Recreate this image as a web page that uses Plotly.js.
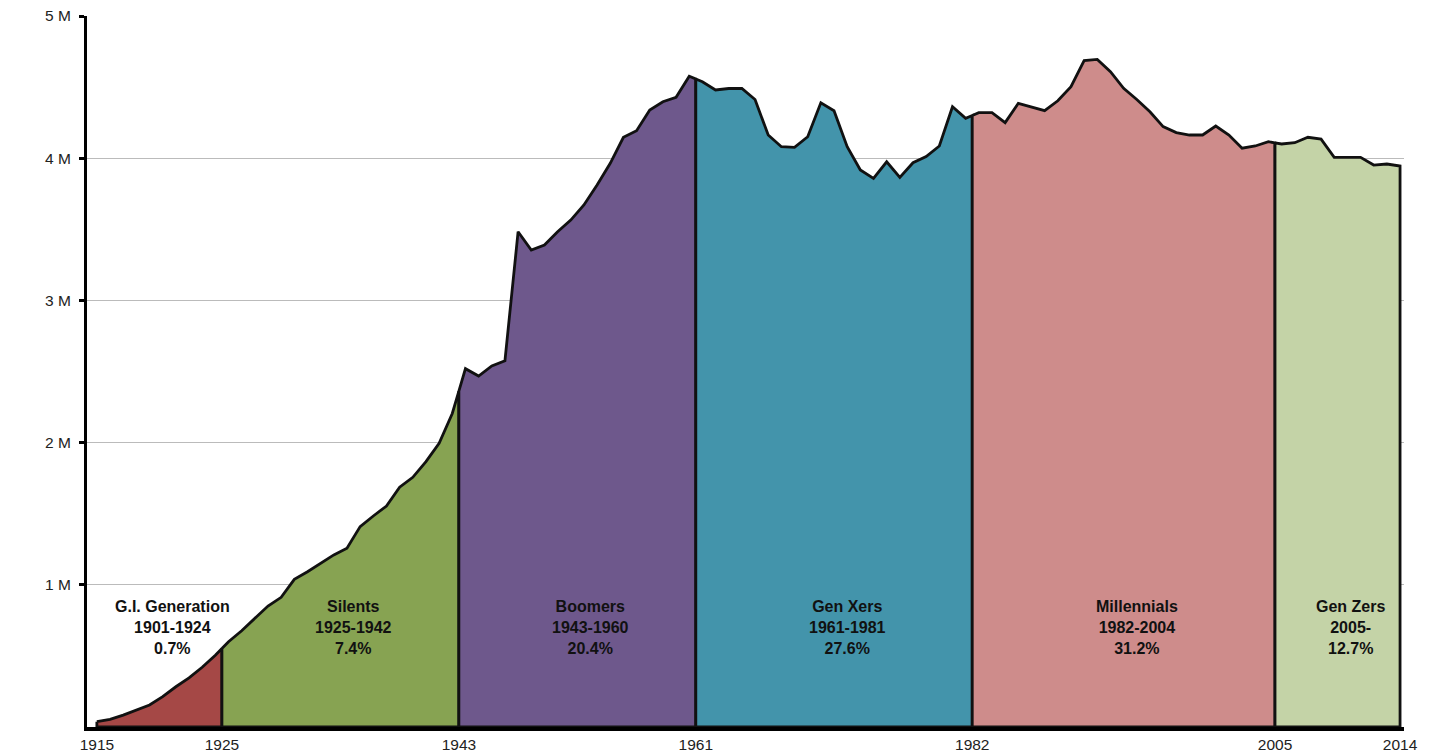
<!DOCTYPE html>
<html>
<head>
<meta charset="utf-8">
<script src="https://cdn.plot.ly/plotly-3.0.1.min.js"></script>
<style>html,body{margin:0;padding:0;background:#fff;}#chart{width:1436px;height:753px;}</style>
</head>
<body>
<div id="chart"></div>
<script>
// Population (millions) by birth year, 1915-2014
const firstYear = 1915;
const lastYear = 2014;
const values = [
  0.037, 0.054, 0.084, 0.120, 0.155, 0.213, 0.283, 0.345, 0.420, 0.505, // 1915-1924
  0.600, 0.677, 0.764, 0.851, 0.912, 1.038, 1.092, 1.151, 1.210, 1.257, // 1925-1934
  1.409, 1.484, 1.554, 1.686, 1.756, 1.866, 1.995, 2.205, 2.520, 2.468, // 1935-1944
  2.539, 2.576, 3.483, 3.354, 3.390, 3.483, 3.565, 3.671, 3.812, 3.964, // 1945-1954
  4.147, 4.193, 4.339, 4.397, 4.428, 4.576, 4.538, 4.480, 4.490, 4.490, // 1955-1964
  4.413, 4.163, 4.081, 4.076, 4.151, 4.390, 4.334, 4.081, 3.917, 3.858, // 1965-1974
  3.975, 3.865, 3.968, 4.011, 4.086, 4.362, 4.280, 4.320, 4.320, 4.250, // 1975-1984
  4.386, 4.358, 4.334, 4.404, 4.503, 4.686, 4.695, 4.608, 4.491, 4.413, // 1985-1994
  4.327, 4.222, 4.180, 4.163, 4.163, 4.226, 4.163, 4.070, 4.086, 4.116, // 1995-2004
  4.100, 4.109, 4.147, 4.134, 4.006, 4.006, 4.006, 3.952, 3.959, 3.945  // 2005-2014
];
const years = [];
for (let y = firstYear; y <= lastYear; y++) years.push(y);

const genNames  = ['G.I. Generation', 'Silents', 'Boomers', 'Gen Xers', 'Millennials', 'Gen Zers'];
const genSpans  = ['1901-1924', '1925-1942', '1943-1960', '1961-1981', '1982-2004', '2005-'];
const genShares = ['0.7%', '7.4%', '20.4%', '27.6%', '31.2%', '12.7%'];
const genStart  = [1901, 1925, 1943, 1961, 1982, 2005];
const genEnd    = [1924, 1942, 1960, 1981, 2004, 2014];
const genColors = ['#A54846', '#87A352', '#6E588C', '#4394AB', '#CE8C8B', '#C4D3A7'];

const xTickLabels = ['1915', '1925', '1943', '1961', '1982', '2005', '2014'];
const yTickVals   = [1, 2, 3, 4, 5];
const yTickLabels = ['1 M', '2 M', '3 M', '4 M', '5 M'];

function valAt(y) { return values[y - firstYear]; }

const traces = [];
const annotations = [];
genNames.forEach((name, g) => {
  const lo = Math.max(genStart[g], firstYear);
  const hi = Math.min(genEnd[g], lastYear);
  let leftX, leftV, rightX, rightV;
  if (lo > firstYear) { leftX = lo - 0.5; leftV = (valAt(lo - 1) + valAt(lo)) / 2; }
  else { leftX = firstYear; leftV = valAt(firstYear); }
  if (hi < lastYear) { rightX = hi + 0.5; rightV = (valAt(hi) + valAt(hi + 1)) / 2; }
  else { rightX = lastYear; rightV = valAt(lastYear); }
  const xs = [leftX], ys = [leftV];
  for (let y = lo; y <= hi; y++) { xs.push(y); ys.push(valAt(y)); }
  xs.push(rightX, rightX, leftX, leftX);
  ys.push(rightV, 0, 0, leftV);
  traces.push({
    type: 'scatter', mode: 'lines', x: xs, y: ys,
    fill: 'toself', fillcolor: genColors[g],
    line: { color: '#111111', width: 2.8 },
    hoverinfo: 'skip', name: name
  });
  annotations.push({
    x: (leftX + rightX) / 2 + 1, y: 0.697, xref: 'x', yref: 'y',
    text: '<b>' + name + '</b><br><b>' + genSpans[g] + '</b><br><b>' + genShares[g] + '</b>',
    showarrow: false, align: 'center',
    font: { family: 'Liberation Sans, Arial, sans-serif', size: 16, color: '#111111' }
  });
});

const xTickVals = xTickLabels.map((t, i) => {
  const yr = parseInt(t, 10);
  return (i === 0 || i === xTickLabels.length - 1) ? yr : yr - 0.5;
});

const layout = {
  width: 1436, height: 753,
  margin: { l: 87, r: 32, t: 16, b: 26 },
  paper_bgcolor: '#ffffff', plot_bgcolor: '#ffffff',
  showlegend: false,
  font: { family: 'Liberation Sans, Arial, sans-serif', color: '#222222' },
  xaxis: {
    range: [1914.25, 2014.3],
    tickmode: 'array', tickvals: xTickVals, ticktext: xTickLabels,
    showline: true, linecolor: '#000000', linewidth: 4,
    showgrid: false, zeroline: false, ticks: '',
    tickfont: { size: 15.5, color: '#222222' }
  },
  yaxis: {
    range: [0, 5],
    tickmode: 'array', tickvals: yTickVals, ticktext: yTickLabels,
    showline: true, linecolor: '#000000', linewidth: 3,
    ticks: 'outside', ticklen: 5, tickwidth: 3, tickcolor: '#000000',
    ticklabelstandoff: 5,
    showgrid: true, gridcolor: '#BBBBBB', gridwidth: 1, zeroline: false,
    tickfont: { size: 15.5, color: '#222222' }
  },
  annotations: annotations
};

Plotly.newPlot('chart', traces, layout, { displayModeBar: false, staticPlot: true });
</script>
</body>
</html>
